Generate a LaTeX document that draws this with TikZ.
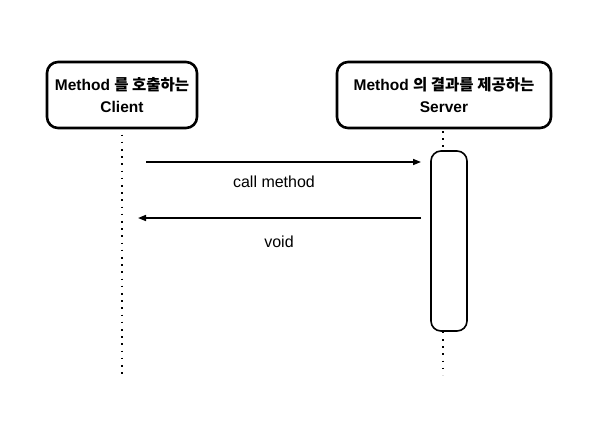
\documentclass[tikz,border=0pt]{standalone}
\usepackage{fontspec}
\setmainfont{Liberation Sans}
\newfontfamily\kr{Noto Sans CJK KR}
\usetikzlibrary{arrows.meta}
\tikzset{
  actor/.style={draw, line width=2.6pt, rounded corners=11pt, fill=white, align=center, inner sep=0pt,
    font=\fontsize{15.5}{22}\selectfont\bfseries},
  act/.style={draw, line width=1.6pt, rounded corners=10pt, fill=white, inner sep=0pt},
  life/.style={line width=1.6pt, dash pattern=on 1.6pt off 5.6pt},
  msg/.style={line width=1.5pt, -{Triangle[length=8pt,width=6pt]}},
  lbl/.style={font=\fontsize{16}{18}\selectfont}
}
\begin{document}
\begin{tikzpicture}[x=1pt,y=-1pt]
\useasboundingbox (0,0) rectangle (589,432);
\node[actor, minimum width=150pt, minimum height=66pt] (client) at (122,95) {Method {\kr 를 호출하는}\\Client};
\node[actor, minimum width=214pt, minimum height=66pt] (server) at (444,95) {Method {\kr 의 결과를 제공하는}\\Server};
\coordinate (cend) at (122,375);
\coordinate (send) at (443,375);
\coordinate (stop) at (443,131);
\node[act, minimum width=36pt, minimum height=180pt] (actbox) at (449,241) {};
\draw[life] ([yshift=2pt]client.south) -- (cend);
\draw[life] (stop) -- (stop |- actbox.north);
\draw[life] (send |- actbox.south) -- (send);
\coordinate (a1s) at (146,162);
\coordinate (a1e) at (421,162);
\coordinate (a2s) at (421,218);
\coordinate (a2e) at (138,218);
\draw[msg] (a1s) -- (a1e);
\draw[msg] (a2s) -- (a2e);
\node[lbl] (l1) at (274,182) {call method};
\node[lbl] (l2) at (279,242) {void};
\end{tikzpicture}
\end{document}
